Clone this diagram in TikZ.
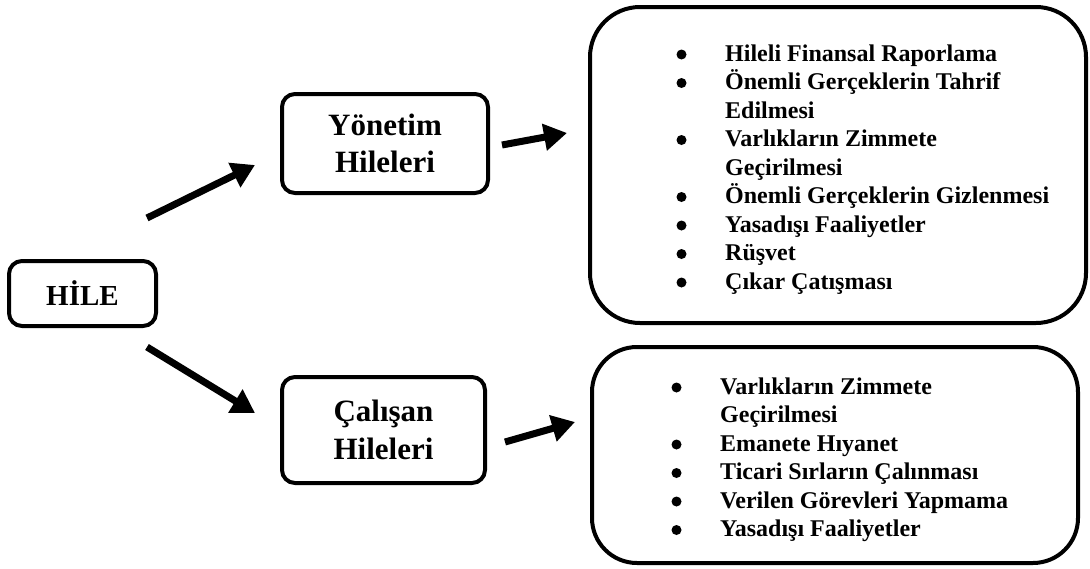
\documentclass[tikz,border=0pt]{standalone}
\usepackage{fontspec}
\setmainfont{Liberation Serif}
\usetikzlibrary{arrows.meta}

\begin{document}
\begin{tikzpicture}[x=1pt,y=-1pt,
 box/.style={draw,line width=4pt,rounded corners=13pt,align=center,inner sep=0pt,font=\fontsize{31pt}{37.5pt}\selectfont\bfseries},
 bigbox/.style={draw,line width=4pt,inner sep=0pt},
 itemlist/.style={anchor=base west,inner sep=0pt,font=\fontsize{24pt}{28.5pt}\selectfont\bfseries},
 arr/.style={line width=7pt,-{Triangle[length=23pt,width=26pt]}}]
 \useasboundingbox (0,0) rectangle (1090,568);
 % boxes
 \node[box,font=\fontsize{29pt}{35pt}\selectfont\bfseries,minimum width=147pt,minimum height=65pt] (hile) at (82.5,293.5) {HİLE};
 \node[box,minimum width=206pt,minimum height=99pt] (yonetim) at (385,143.5) {Yönetim\\Hileleri};
 \node[box,minimum width=203pt,minimum height=106pt] (calisan) at (383.5,430) {Çalışan\\Hileleri};
 \node[bigbox,rounded corners=50pt,minimum width=496pt,minimum height=316pt] (ybox) at (838,165) {};
 \node[bigbox,rounded corners=45pt,minimum width=486pt,minimum height=216pt] (cbox) at (835,455) {};
 % lists
 \node[itemlist] (ylist) at (725,61) {\begin{tabular}[t]{@{}l@{}}
 Hileli Finansal Raporlama\\
 Önemli Gerçeklerin Tahrif\\
 Edilmesi\\
 Varlıkların Zimmete\\
 Geçirilmesi\\
 Önemli Gerçeklerin Gizlenmesi\\
 Yasadışı Faaliyetler\\
 Rüşvet\\
 Çıkar Çatışması
 \end{tabular}};
 \node[itemlist] (clist) at (720,394) {\begin{tabular}[t]{@{}l@{}}
 Varlıkların Zimmete\\
 Geçirilmesi\\
 Emanete Hıyanet\\
 Ticari Sırların Çalınması\\
 Verilen Görevleri Yapmama\\
 Yasadışı Faaliyetler
 \end{tabular}};
 % bullets
 \foreach \k in {0,1,3,5,6,7,8}
  \fill (681.5,54.5+28.5*\k) circle (5pt);
 \foreach \k in {0,2,3,4,5}
  \fill (676.5,387.5+28.5*\k) circle (5pt);
 % arrows
 \coordinate (a1) at (147,218); \coordinate (b1) at (255,165);
 \coordinate (a2) at (147,347); \coordinate (b2) at (255,413);
 \coordinate (a3) at (502,145); \coordinate (b3) at (567,133);
 \coordinate (a4) at (505,442); \coordinate (b4) at (575,422);
 \draw[arr] (a1) -- (b1);
 \draw[arr] (a2) -- (b2);
 \draw[arr] (a3) -- (b3);
 \draw[arr] (a4) -- (b4);
\end{tikzpicture}
\end{document}
